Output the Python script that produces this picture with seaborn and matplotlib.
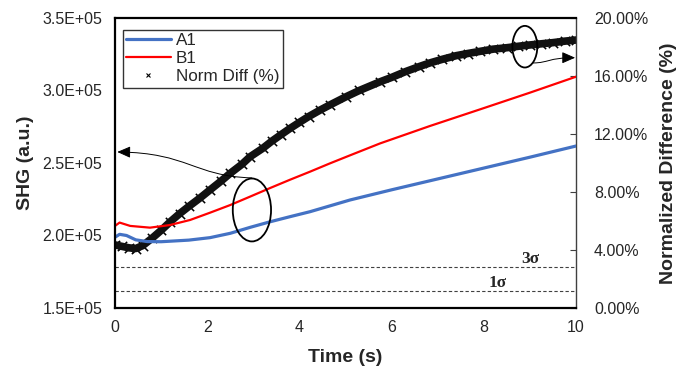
import numpy as np
import pandas as pd
import matplotlib
matplotlib.use("Agg")
import matplotlib.pyplot as plt
import seaborn as sns
from matplotlib.patches import Ellipse, FancyArrowPatch
from matplotlib.path import Path
from matplotlib.ticker import FuncFormatter
from matplotlib.lines import Line2D

# data
a1_t = [0, 0.1, 0.25, 0.45, 0.7, 1.0, 1.6, 2.06, 2.5, 2.93, 3.37, 3.8, 4.23, 5.1, 6, 7, 8, 9, 10]
a1 = [1.988, 2.008, 2.0, 1.97, 1.958, 1.957, 1.968, 1.985, 2.015, 2.056, 2.095, 2.13, 2.164,
      2.245, 2.315, 2.39, 2.465, 2.54, 2.617]

b1_t = [0, 0.1, 0.33, 0.76, 1.19, 1.63, 2.06, 2.5, 2.93, 3.37, 3.8, 4.23, 4.66, 5.1, 5.75,
        6.83, 7.92, 9.0, 10]
b1 = [2.066, 2.089, 2.066, 2.054, 2.072, 2.107, 2.157, 2.21, 2.268, 2.328, 2.385, 2.44, 2.497,
      2.553, 2.635, 2.755, 2.87, 2.985, 3.095]

nd_t = [0, 0.15, 0.3, 0.45, 0.6, 0.8, 1.0, 1.2, 1.4, 1.6, 1.85, 2.06, 2.3, 2.5, 2.75, 2.93,
        3.2, 3.4, 3.6, 3.8, 4.0, 4.2, 4.45, 4.66, 5.0, 5.3, 5.75, 6.0, 6.3, 6.6, 6.83, 7.1,
        7.4, 7.65, 7.92, 8.2, 8.5, 8.75, 9.0, 9.25, 9.5, 9.75, 10.0]
norm_diff = [4.35, 4.25, 4.15, 4.1, 4.3, 4.8, 5.35, 5.95, 6.5, 7.0, 7.6, 8.14, 8.75, 9.29, 9.9,
             10.43, 11.0, 11.5, 11.95, 12.39, 12.8, 13.2, 13.65, 14.0, 14.55, 15.0, 15.6, 15.9,
             16.3, 16.65, 16.9, 17.15, 17.4, 17.55, 17.7, 17.85, 17.95, 18.05, 18.14, 18.22,
             18.3, 18.4, 18.48]

sigma_levels = [2.8, 1.19]   # % on right axis
sigma_labels = ["3\u03c3", "1\u03c3"]

df_a = pd.DataFrame({"t": a1_t, "v": np.array(a1) * 1e5})
df_b = pd.DataFrame({"t": b1_t, "v": np.array(b1) * 1e5})
df_n = pd.DataFrame({"t": nd_t, "v": norm_diff})

sns.set_style("white")
plt.rcParams["font.family"] = ["Liberation Sans", "DejaVu Sans"]

fig = plt.figure(figsize=(6.86, 3.67), dpi=100)
ax = fig.add_axes([0.1676, 0.1608, 0.6721, 0.7902])
ax2 = ax.twinx()

sns.lineplot(data=df_a, x="t", y="v", ax=ax, color="#4472C4", lw=2.3, legend=False)
sns.lineplot(data=df_b, x="t", y="v", ax=ax, color="#FF0000", lw=1.6, legend=False)

# norm diff band + x markers
sns.lineplot(data=df_n, x="t", y="v", ax=ax2, color="#111111", lw=5.5, legend=False)
sns.scatterplot(data=df_n, x="t", y="v", ax=ax2, color="black", marker="x", s=45,
                linewidth=1.1, legend=False)

for lev, lab, tx in zip(sigma_levels, sigma_labels, [9.0, 8.3]):
    ax2.axhline(lev, color="#404040", lw=0.8, ls=(0, (3, 2)))
    ax2.text(tx, lev + 0.55, lab, ha="center", va="center", fontsize=12.5, fontweight="bold",
             family=["Liberation Serif", "DejaVu Serif"])

ax.set_xlim(0, 10)
ax.set_ylim(1.5e5, 3.5e5)
ax2.set_ylim(0, 20)
ax.set_xticks(range(0, 11, 2))
ax.set_yticks(np.arange(1.5e5, 3.51e5, 0.5e5))
ax2.set_yticks(range(0, 21, 4))
ax.yaxis.set_major_formatter(FuncFormatter(lambda v, p: f"{v:.1E}"))
ax2.yaxis.set_major_formatter(FuncFormatter(lambda v, p: f"{v:.2f}%"))
ax.tick_params(axis="both", length=0, labelsize=11.5, pad=9)
ax2.tick_params(axis="y", direction="in", length=4, labelsize=11.5, pad=13, color="#404040")

ax.set_xlabel("Time (s)", fontsize=14, fontweight="bold", labelpad=10)
ax.set_ylabel("SHG (a.u.)", fontsize=14, fontweight="bold", labelpad=6)
ax2.set_ylabel("Normalized Difference (%)", fontsize=14, fontweight="bold", labelpad=8)

for s in ["left", "top", "bottom"]:
    ax.spines[s].set_color("black")
    ax.spines[s].set_linewidth(1.6)
    ax2.spines[s].set_visible(False)
ax.spines["right"].set_visible(False)
ax2.spines["right"].set_color("#404040")
ax2.spines["right"].set_linewidth(1.0)

# ellipse + arrow to left axis
ax.add_patch(Ellipse((2.97, 2.176e5), 0.83, 0.434e5, fill=False, ec="black", lw=1.3, zorder=5))
path = Path([(2.97, 2.397e5), (1.7, 2.41e5), (1.6, 2.57e5), (0.05, 2.576e5)],
            [Path.MOVETO, Path.CURVE4, Path.CURVE4, Path.CURVE4])
ax.add_patch(FancyArrowPatch(path=path, arrowstyle="-|>,head_length=8,head_width=3.5",
                             color="black", lw=0.7, zorder=5))

# ellipse + arrow to right axis
ax2.add_patch(Ellipse((8.89, 18.02), 0.54, 2.87, fill=False, ec="black", lw=1.3, zorder=5))
path2 = Path([(9.07, 16.9), (9.4, 16.9), (9.4, 17.26), (9.98, 17.26)],
             [Path.MOVETO, Path.CURVE4, Path.CURVE4, Path.CURVE4])
ax2.add_patch(FancyArrowPatch(path=path2, arrowstyle="-|>,head_length=8,head_width=3.5",
                              color="black", lw=0.7, zorder=5))

handles = [Line2D([], [], color="#4472C4", lw=2.3),
           Line2D([], [], color="#FF0000", lw=1.6),
           Line2D([], [], color="black", marker="x", ls="none", markersize=3.5, mew=0.8)]
leg = ax.legend(handles, ["A1", "B1", "Norm Diff (%)"], loc="upper left",
                bbox_to_anchor=(0.017, 0.96), fontsize=12.3, frameon=True, fancybox=False,
                handlelength=2.6, handletextpad=0.3, borderpad=0.2, labelspacing=0.18,
                borderaxespad=0)
leg.get_frame().set_edgecolor("black")
leg.get_frame().set_linewidth(1.0)
leg.set_zorder(10)
ax.set_zorder(ax2.get_zorder() + 1)
ax.patch.set_visible(False)

fig.savefig("out.png", dpi=100)
